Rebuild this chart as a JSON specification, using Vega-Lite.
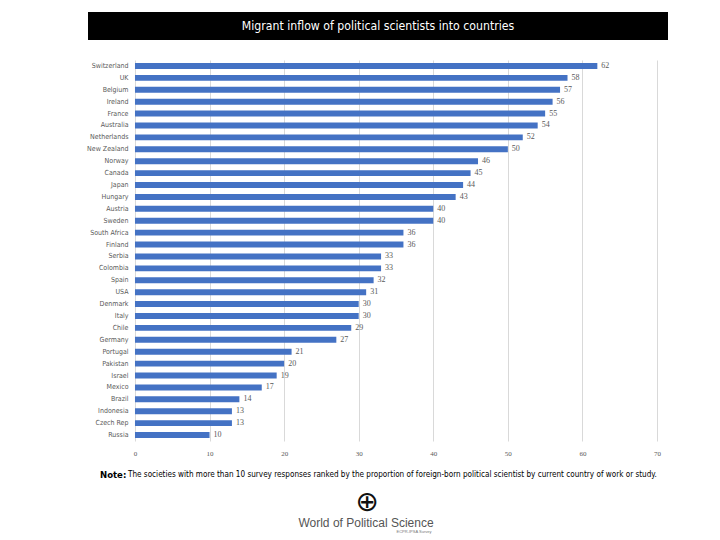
{
  "$schema": "https://vega.github.io/schema/vega-lite/v6.json",
  "padding": {"left": 86, "top": 12, "right": 0, "bottom": 0},
  "background": "white",
  "spacing": 20,
  "config": {"view": {"stroke": null}, "font": "DejaVu Sans Condensed, Liberation Sans"},
  "vconcat": [
    {
      "width": 580,
      "height": 28,
      "view": {"fill": "black", "stroke": null},
      "data": {"values": [{"t": "Migrant inflow of political scientists into countries"}]},
      "mark": {"type": "text", "color": "white", "font": "DejaVu Sans Condensed, Liberation Sans", "fontSize": 12.2, "baseline": "middle", "align": "center"},
      "encoding": {"text": {"field": "t"}}
    },
    {
      "spacing": 12,
      "vconcat": [
        {
          "width": 580,
          "height": 381,
          "data": {"values": [
            {"country": "Switzerland", "value": 62},
            {"country": "UK", "value": 58},
            {"country": "Belgium", "value": 57},
            {"country": "Ireland", "value": 56},
            {"country": "France", "value": 55},
            {"country": "Australia", "value": 54},
            {"country": "Netherlands", "value": 52},
            {"country": "New Zealand", "value": 50},
            {"country": "Norway", "value": 46},
            {"country": "Canada", "value": 45},
            {"country": "Japan", "value": 44},
            {"country": "Hungary", "value": 43},
            {"country": "Austria", "value": 40},
            {"country": "Sweden", "value": 40},
            {"country": "South Africa", "value": 36},
            {"country": "Finland", "value": 36},
            {"country": "Serbia", "value": 33},
            {"country": "Colombia", "value": 33},
            {"country": "Spain", "value": 32},
            {"country": "USA", "value": 31},
            {"country": "Denmark", "value": 30},
            {"country": "Italy", "value": 30},
            {"country": "Chile", "value": 29},
            {"country": "Germany", "value": 27},
            {"country": "Portugal", "value": 21},
            {"country": "Pakistan", "value": 20},
            {"country": "Israel", "value": 19},
            {"country": "Mexico", "value": 17},
            {"country": "Brazil", "value": 14},
            {"country": "Indonesia", "value": 13},
            {"country": "Czech Rep", "value": 13},
            {"country": "Russia", "value": 10}
          ]},
          "encoding": {
            "y": {
              "field": "country", "type": "nominal", "sort": null,
              "scale": {"paddingInner": 0.5, "paddingOuter": 0.25},
              "axis": {"title": null, "ticks": false, "domain": false, "labelFont": "DejaVu Sans Condensed, Liberation Sans", "labelFontSize": 7, "labelColor": "#595959", "labelPadding": -40, "labelAlign": "right"}
            },
            "x": {
              "field": "value", "type": "quantitative",
              "scale": {"domain": [-6.3, 71.475], "nice": false, "zero": false},
              "axis": {"title": null, "values": [0, 10, 20, 30, 40, 50, 60, 70], "ticks": false, "domain": false, "grid": true, "gridColor": "#d9d9d9", "gridWidth": 1, "labelFont": "Liberation Serif", "labelFontSize": 7, "labelColor": "#595959", "labelPadding": 8}
            }
          },
          "layer": [
            {"mark": {"type": "bar", "color": "#4472C4"}, "encoding": {"x2": {"datum": 0}}},
            {"mark": {"type": "text", "align": "left", "dx": 4, "font": "Liberation Serif", "fontSize": 8, "color": "#595959", "baseline": "middle"}, "encoding": {"text": {"field": "value"}}}
          ]
        },
        {
          "width": 580,
          "height": 70,
          "layer": [
            {
              "data": {"values": [{"t": "Note:"}]},
              "mark": {"type": "text", "align": "left", "baseline": "middle", "dx": -278, "dy": -28, "font": "DejaVu Sans Condensed, Liberation Sans", "fontWeight": "bold", "fontSize": 9.5, "color": "black"},
              "encoding": {"text": {"field": "t"}}
            },
            {
              "data": {"values": [{"t": "The societies with more than 10 survey responses ranked by the proportion of foreign-born political scientist by current country of work or study."}]},
              "mark": {"type": "text", "align": "left", "baseline": "middle", "dx": -250, "dy": -28, "font": "DejaVu Sans Condensed, Liberation Sans", "fontSize": 8.1, "color": "black"},
              "encoding": {"text": {"field": "t"}}
            },
            {
              "data": {"values": [{"t": "⊕"}]},
              "mark": {"type": "text", "align": "center", "baseline": "middle", "dx": -11, "dy": 0, "font": "DejaVu Sans", "fontSize": 28, "color": "#111111"},
              "encoding": {"text": {"field": "t"}}
            },
            {
              "data": {"values": [{"t": "World of Political Science"}]},
              "mark": {"type": "text", "align": "center", "baseline": "middle", "dx": -12, "dy": 20, "font": "Liberation Sans", "fontSize": 12, "color": "#555555"},
              "encoding": {"text": {"field": "t"}}
            },
            {
              "data": {"values": [{"t": "ECPR-IPSA Survey"}]},
              "mark": {"type": "text", "align": "center", "baseline": "middle", "dx": 36, "dy": 29, "font": "Liberation Sans", "fontSize": 4, "color": "#777777"},
              "encoding": {"text": {"field": "t"}}
            }
          ]
        }
      ]
    }
  ]
}
